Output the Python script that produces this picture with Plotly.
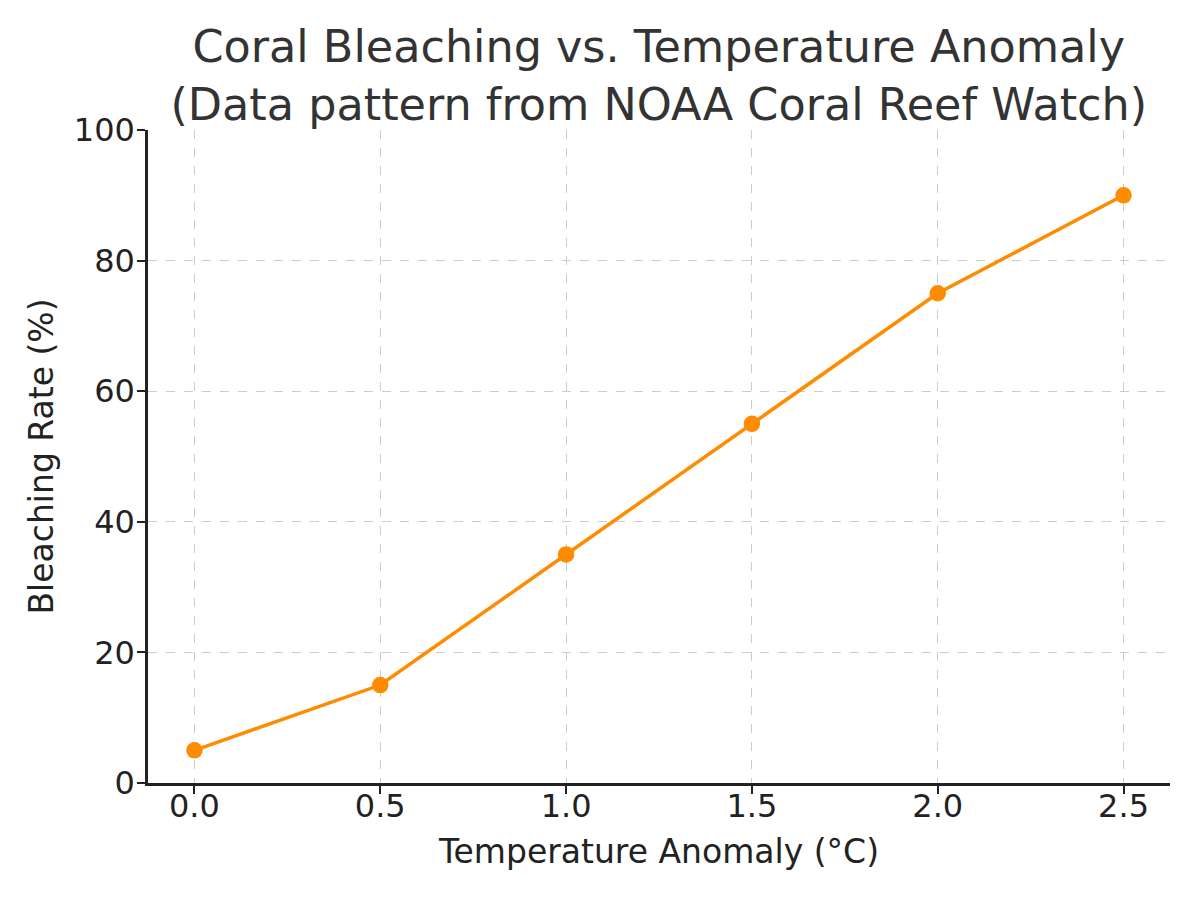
import plotly.graph_objects as go

temperature_anomaly = [0.0, 0.5, 1.0, 1.5, 2.0, 2.5]
bleaching_rate = [5, 15, 35, 55, 75, 90]
x_ticks = [0.0, 0.5, 1.0, 1.5, 2.0, 2.5]
x_tick_labels = ["0.0", "0.5", "1.0", "1.5", "2.0", "2.5"]
y_ticks = [0, 20, 40, 60, 80, 100]

FONT = "DejaVu Sans"
fig = go.Figure()
fig.add_trace(go.Scatter(
    x=temperature_anomaly, y=bleaching_rate, mode="lines+markers",
    line=dict(color="#ff8c00", width=3.5),
    marker=dict(color="#ff8c00", size=16.5),
    showlegend=False,
))

fig.update_layout(
    width=1200, height=900,
    paper_bgcolor="white", plot_bgcolor="white",
    margin=dict(l=148, r=30, t=130, b=117),
    font=dict(family=FONT, color="#222222"),
    title=dict(
        text="Coral Bleaching vs. Temperature Anomaly<br>(Data pattern from NOAA Coral Reef Watch)",
        x=0.549, xanchor="center", y=0.931, yanchor="middle",
        font=dict(size=44.5, family=FONT, color="#333333"),
    ),
)
fig.update_xaxes(
    range=[-0.125, 2.625], tickvals=x_ticks, ticktext=x_tick_labels,
    showgrid=True, gridcolor="#cccccc", griddash="dash", gridwidth=1.3,
    showline=True, linecolor="#222222", linewidth=2.5, mirror=False,
    ticks="outside", ticklen=8, tickwidth=2, tickcolor="#222222",
    ticklabelstandoff=-15,
    tickfont=dict(size=32, family=FONT, color="#222222"),
    title=dict(text="Temperature Anomaly (°C)", font=dict(size=33, family=FONT, color="#222222"), standoff=16),
    zeroline=False,
)
fig.update_yaxes(
    range=[0, 100], tickvals=y_ticks,
    showgrid=True, gridcolor="#cccccc", griddash="dash", gridwidth=1.3,
    showline=True, linecolor="#222222", linewidth=2.5, mirror=False,
    ticks="outside", ticklen=8, tickwidth=2, tickcolor="#222222",
    ticklabelstandoff=-4,
    tickfont=dict(size=32, family=FONT, color="#222222"),
    title=dict(text="Bleaching Rate (%)", font=dict(size=33, family=FONT, color="#222222"), standoff=11),
    zeroline=False,
)

fig.write_html("out.html")
